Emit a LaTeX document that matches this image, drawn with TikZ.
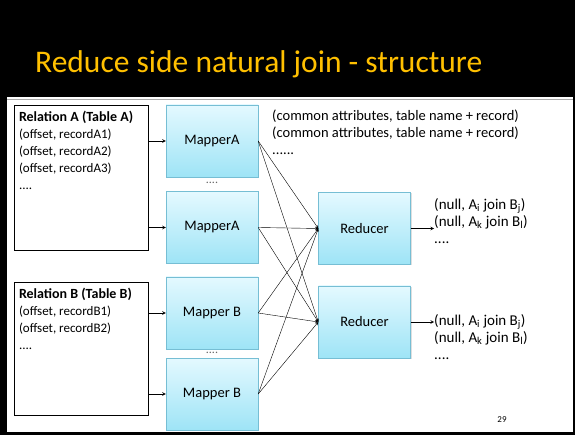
\documentclass[tikz,border=0pt]{standalone}
\usepackage{fontspec}
\setmainfont{Carlito}
\usetikzlibrary{arrows,shapes,positioning,shadows}
\usepackage{xcolor}
\definecolor{slideyellow}{RGB}{255,192,0}
\definecolor{boxtop}{RGB}{228,249,255}
\definecolor{boxbottom}{RGB}{158,228,246}
\definecolor{boxedge}{RGB}{118,190,212}
\definecolor{rulegray}{RGB}{170,170,170}
\tikzstyle{arrow} = [semithick,->,>=stealth,color=black]
\tikzstyle{link} = [thin,->,>=stealth,color=black]
\tikzstyle{relation} = [rectangle, draw=black, fill=white, minimum width=134pt, minimum height=145pt, drop shadow={shadow xshift=1.2pt, shadow yshift=-1.2pt, opacity=0.35}]
\tikzstyle{worker} = [rectangle, draw=boxedge, top color=boxtop, bottom color=boxbottom, minimum width=92pt, minimum height=72pt, font=\fontsize{14.5}{17}\selectfont, drop shadow={shadow xshift=1pt, shadow yshift=-1pt, opacity=0.25}]
\tikzstyle{listing} = [align=left, inner sep=0pt, font=\fontsize{13}{17}\selectfont]
\tikzstyle{dots} = [inner sep=1pt, text=black!60, font=\fontsize{12}{12}\selectfont]

\begin{document}
\begin{tikzpicture}[x=1pt, y=-1pt]
\useasboundingbox (0,0) rectangle (575,435);
% slide background
\fill[black] (0,0) rectangle (575,435);
\fill[white] (7,97) rectangle (573,432);
\draw[rulegray, line width=1.5pt] (7,99.5) -- (573,99.5);
\node (title) [anchor=base west, inner sep=0pt, text=slideyellow, font=\fontsize{31.5}{36}\selectfont] at (35,73) {Reduce side natural join - structure};

% input relations
\node (relA) [relation, minimum height=145pt] at (81,177.5) {};
\node (relAtxt) [listing, below right=6.5pt and 5pt of relA.north west] {{\fontsize{14}{17}\selectfont\bfseries Relation A (Table A)}\\(offset, recordA1)\\(offset, recordA2)\\(offset, recordA3)\\....};
\node (relB) [relation, minimum height=133pt] at (81,348.5) {};
\node (relBtxt) [listing, below right=6.5pt and 5pt of relB.north west] {{\fontsize{14}{17}\selectfont\bfseries Relation B (Table B)}\\(offset, recordB1)\\(offset, recordB2)\\....};

% mappers
\node (mA1) [worker] at (212,141) {MapperA};
\node (mA2) [worker] at (212,227.5) {MapperA};
\node (mB1) [worker] at (212,313) {Mapper B};
\node (mB2) [worker] at (212,394) {Mapper B};
\node (gapA) [dots, below=4pt of mA1] {....};
\node (gapB) [dots, below=2pt of mB1] {....};

% reducers
\node (rd1) [worker] at (364.5,228.5) {Reducer};
\node (rd2) [worker] at (364.5,322) {Reducer};

% intermediate and output records
\node (pairs) [listing, anchor=north west, font=\fontsize{14.5}{17}\selectfont] at (272,110) {(common attributes, table name + record)\\(common attributes, table name + record)\\......};
\node (joinA) [listing, anchor=north west, font=\fontsize{15}{17}\selectfont] at (434,198) {(null, A\textsubscript{i} join B\textsubscript{j})\\(null, A\textsubscript{k} join B\textsubscript{l})\\....};
\node (joinB) [listing, anchor=north west, font=\fontsize{15}{17}\selectfont] at (434,314) {(null, A\textsubscript{i} join B\textsubscript{j})\\(null, A\textsubscript{k} join B\textsubscript{l})\\....};
\node (pageno) [font=\fontsize{9}{9}\selectfont, inner sep=0pt] at (502,420) {29};

\draw[arrow] (relA.east |- mA1) -- (mA1);
\draw[arrow] (relA.east |- mA2) -- (mA2);
\draw[arrow] (relB.east |- mB1) -- (mB1);
\draw[arrow] (relB.east |- mB2) -- (mB2);

\foreach \m in {mA1,mA2,mB1,mB2}{
  \draw[link] (\m.east) -- (rd1.west);
  \draw[link] (\m.east) -- (rd2.west);
}

\draw[arrow] (rd1.east) -- (rd1.east -| joinA.west);
\draw[arrow] (rd2.east) -- (rd2.east -| joinB.west);
\end{tikzpicture}
\end{document}
